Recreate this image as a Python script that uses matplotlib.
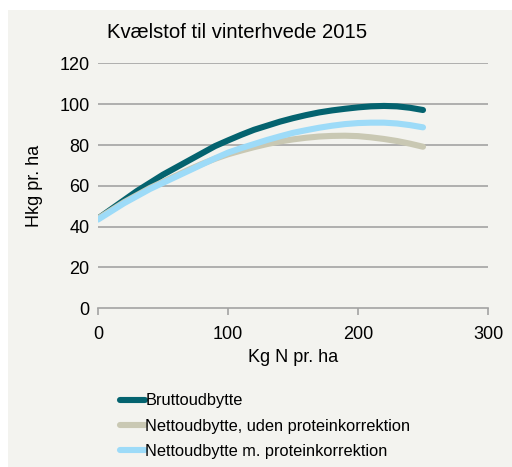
import matplotlib
matplotlib.use("Agg")
import matplotlib.pyplot as plt
from matplotlib.patches import Rectangle

plt.rcParams['font.family'] = ['Liberation Sans', 'DejaVu Sans']

# ---- data -------------------------------------------------------------------
kg_n = [0, 10, 20, 30, 40, 50, 60, 70, 80, 90, 100, 110, 120, 130,
        140, 150, 160, 170, 180, 190, 200, 210, 220, 230, 240, 250]

brutto = [44, 48.5, 53, 57.5, 61.5, 65.5, 69, 72.5, 76, 79.5, 82.3, 85,
          87.5, 89.5, 91.5, 93.2, 94.7, 96, 97, 97.8, 98.5, 99, 99.2, 99,
          98.3, 97.2]

netto_uden = [44, 48, 52, 55.5, 59, 62, 65, 68, 70.8, 73.3, 75.5, 77.3,
              79, 80.5, 81.8, 82.8, 83.6, 84.2, 84.5, 84.6, 84.4, 83.8, 83,
              82, 80.7, 79.2]

netto_m = [43.5, 47.5, 51.5, 55, 58.5, 61.5, 64.5, 67.5, 70.5, 73.5, 76.3,
           78.5, 80.5, 82.5, 84.3, 86, 87.3, 88.5, 89.5, 90.3, 90.8, 91, 91,
           90.6, 89.8, 88.7]

labels = ["Bruttoudbytte",
          "Nettoudbytte, uden proteinkorrektion",
          "Nettoudbytte m. proteinkorrektion"]
colors = ["#04636f", "#c9c8b3", "#9ddbf8"]

x_ticks = [0, 100, 200, 300]
y_ticks = [0, 20, 40, 60, 80, 100, 120]

# ---- figure -----------------------------------------------------------------
fig = plt.figure(figsize=(5.12, 4.67), dpi=100)
fig.patch.set_facecolor("white")
fig.patches.append(Rectangle((8 / 512, 0), 1, 1 - 10 / 467,
                             transform=fig.transFigure,
                             facecolor="#f3f3ef", edgecolor="none",
                             zorder=-10))

ax = fig.add_axes([98 / 512, 1 - 308.3 / 467, 390 / 512, 244.8 / 467])
ax.set_facecolor("none")

lw = 4.4
ax.plot(kg_n, brutto, color=colors[0], lw=lw, label=labels[0],
        solid_capstyle="round", zorder=3)
ax.plot(kg_n, netto_uden, color=colors[1], lw=lw, label=labels[1],
        solid_capstyle="round", zorder=4)
ax.plot(kg_n, netto_m, color=colors[2], lw=lw, label=labels[2],
        solid_capstyle="round", zorder=5)

ax.set_xlim(0, 300)
ax.set_ylim(0, 120)
ax.set_xticks(x_ticks)
ax.set_yticks(y_ticks)

for y in y_ticks[1:]:
    ax.axhline(y, color="#a3a3a3", lw=1.2, zorder=1)

for s in ["left", "right", "top"]:
    ax.spines[s].set_visible(False)
ax.spines["bottom"].set_color("#a3a3a3")
ax.spines["bottom"].set_linewidth(1.2)

ax.tick_params(axis="y", length=0, pad=6, labelsize=13)
ax.tick_params(axis="x", length=5, color="#a3a3a3", width=1.2,
               direction="out", pad=8, labelsize=13)

ax.set_xlabel("Kg N pr. ha", fontsize=13, labelpad=4)
ax.set_ylabel("Hkg pr. ha", fontsize=13, labelpad=12)

fig.text(107 / 512, 1 - 33 / 467, "Kvælstof til vinterhvede 2015",
         fontsize=14.6, ha="left", va="center")

fig.legend(loc="center left", bbox_to_anchor=(120 / 512, 1 - 426 / 467),
           frameon=False, fontsize=11.8, handlelength=1.55,
           handletextpad=0.0, labelspacing=0.62, borderpad=0,
           borderaxespad=0)

fig.savefig("out.png", dpi=100)
